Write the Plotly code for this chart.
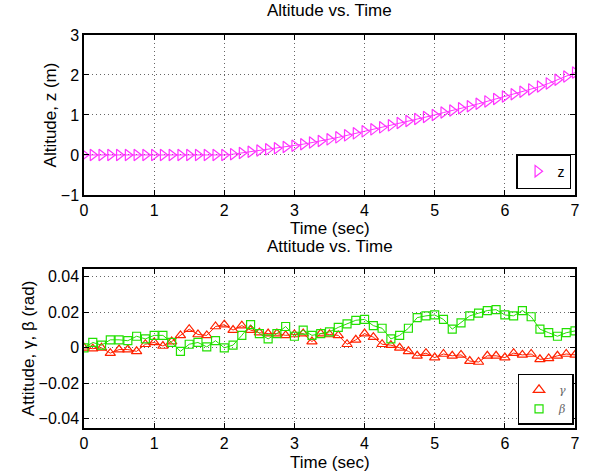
import plotly.graph_objects as go

# ---- data ----
t_top = [i * 0.125 for i in range(57)]
z_vals = [0.0]*17 + [
    0.02, 0.05, 0.08, 0.11, 0.14, 0.17, 0.20,
    0.23, 0.27, 0.31, 0.35, 0.39, 0.44, 0.49, 0.54,
    0.59, 0.64, 0.69, 0.74, 0.80, 0.85, 0.90, 0.95,
    1.00, 1.06, 1.11, 1.17, 1.22, 1.28, 1.34, 1.40,
    1.46, 1.52, 1.58, 1.64, 1.71, 1.79, 1.88, 1.96, 2.06]

t_bot = [i * 0.125 for i in range(57)]
gamma_vals = [
    0.0, -0.0005, 0.0, -0.003, -0.001, -0.001, -0.002, 0.002,
    0.003, 0.001, 0.0035, 0.007, 0.0105, 0.0075, 0.007, 0.012,
    0.013, 0.010, 0.0125, 0.010, 0.0085, 0.008, 0.008, 0.007,
    0.0075, 0.008, 0.0035, 0.008, 0.0075, 0.007, 0.002, 0.0045,
    0.008, 0.006, 0.002, 0.0015, 0.0, -0.002, -0.0045, -0.003,
    -0.0055, -0.0035, -0.0045, -0.004, -0.0075, -0.008, -0.0045, -0.0045,
    -0.0055, -0.003, -0.004, -0.0035, -0.0065, -0.006, -0.0045, -0.0035,
    -0.004]
beta_vals = [
    0.0, 0.003, 0.0015, 0.0045, 0.0045, 0.004, 0.0065, 0.005,
    0.007, 0.007, 0.003, -0.002, 0.002, 0.003, 0.0005, 0.004,
    0.0, 0.0015, 0.007, 0.013, 0.008, 0.005, 0.008, 0.012,
    0.0065, 0.010, 0.007, 0.008, 0.009, 0.0115, 0.0135, 0.0155,
    0.016, 0.0125, 0.011, 0.005, 0.007, 0.011, 0.017, 0.018,
    0.0185, 0.016, 0.0105, 0.014, 0.018, 0.0195, 0.021, 0.0215,
    0.0185, 0.018, 0.021, 0.0175, 0.0105, 0.0085, 0.0065, 0.0085,
    0.0095]

top_yticks = [-1, 0, 1, 2, 3]
bot_yticks = [-0.04, -0.02, 0, 0.02, 0.04]
xticks = [0, 1, 2, 3, 4, 5, 6, 7]

FONT = "Liberation Sans"
MAG = "#ff33ff"
RED = "#ff2200"
GRN = "#22e000"

fig = go.Figure()
# data lines (no legend)
fig.add_trace(go.Scatter(
    x=t_top, y=z_vals, mode="lines+markers", showlegend=False,
    line=dict(color=MAG, width=1),
    marker=dict(symbol="triangle-right-open", size=10, color=MAG, line=dict(width=1.2)),
    xaxis="x", yaxis="y"))
fig.add_trace(go.Scatter(
    x=t_bot, y=gamma_vals, mode="lines+markers", showlegend=False,
    line=dict(color=RED, width=1),
    marker=dict(symbol="triangle-up-open", size=9, color=RED, line=dict(width=1.2)),
    xaxis="x2", yaxis="y2"))
fig.add_trace(go.Scatter(
    x=t_bot, y=beta_vals, mode="lines+markers", showlegend=False,
    line=dict(color=GRN, width=1),
    marker=dict(symbol="square-open", size=8, color=GRN, line=dict(width=1.2)),
    xaxis="x2", yaxis="y2"))
# legend entries (markers only)
fig.add_trace(go.Scatter(
    x=[None], y=[None], mode="markers", name="z",
    marker=dict(symbol="triangle-right-open", size=10, color=MAG, line=dict(width=1.2)),
    xaxis="x", yaxis="y", legend="legend"))
fig.add_trace(go.Scatter(
    x=[None], y=[None], mode="markers", name="<i>γ</i>",
    marker=dict(symbol="triangle-up-open", size=10, color=RED, line=dict(width=1.2)),
    xaxis="x2", yaxis="y2", legend="legend2"))
fig.add_trace(go.Scatter(
    x=[None], y=[None], mode="markers", name="<i>β</i>",
    marker=dict(symbol="square-open", size=8, color=GRN, line=dict(width=1.2)),
    xaxis="x2", yaxis="y2", legend="legend2"))

axis_common = dict(
    showline=True, linecolor="black", linewidth=1.5, mirror="ticks",
    ticks="inside", ticklen=5, tickcolor="black", automargin=False,
    showgrid=True, gridcolor="#666666", griddash="1px,3px", gridwidth=1,
    zeroline=False, tickfont=dict(family=FONT, size=16, color="black"),
)

def ann(text, y, yshift, yanchor="middle"):
    return dict(text=text, x=0.5, y=y, xref="paper", yref="paper",
                xanchor="center", yanchor=yanchor, yshift=yshift, showarrow=False,
                font=dict(family=FONT, size=17, color="black"))

fig.update_layout(
    width=598, height=471,
    margin=dict(l=84, r=23, t=35, b=43, autoexpand=False),
    paper_bgcolor="white", plot_bgcolor="white",
    font=dict(family=FONT, color="black"),
    showlegend=True,
    xaxis=dict(domain=[0, 1], range=[0, 7], tickvals=xticks, anchor="y", **axis_common),
    yaxis=dict(domain=[0.593, 1.0], range=[-1, 3], tickvals=top_yticks, anchor="x",
               title=dict(text="Altitude, z (m)", font=dict(family=FONT, size=17), standoff=0), **axis_common),
    xaxis2=dict(domain=[0, 1], range=[0, 7], tickvals=xticks, anchor="y2", **axis_common),
    yaxis2=dict(domain=[0, 0.405], range=[-0.0452, 0.0445], tickvals=bot_yticks, anchor="x2",
                title=dict(text="Attitude, γ, β (rad)", font=dict(family=FONT, size=17), standoff=0), **axis_common),
    legend=dict(x=0.992, y=0.608, xanchor="right", yanchor="bottom",
                bordercolor="black", borderwidth=1.5, bgcolor="white",
                font=dict(family=FONT, size=14), itemwidth=30),
    legend2=dict(x=0.997, y=0.008, xanchor="right", yanchor="bottom",
                 bordercolor="black", borderwidth=1.5, bgcolor="white",
                 font=dict(family="DejaVu Serif", size=11, color="#666666"),
                 itemwidth=30, tracegroupgap=0),
    annotations=[
        ann("Altitude vs. Time", 1.0, 13, "bottom"),
        ann("Attitude vs. Time", 0.405, 11, "bottom"),
        ann("Time (sec)", 0.593, -34),
        ann("Time (sec)", 0.0, -34),
    ],
)

fig.write_html("out.html", config={"displayModeBar": False},
               post_script="document.body.style.margin='0px';")
